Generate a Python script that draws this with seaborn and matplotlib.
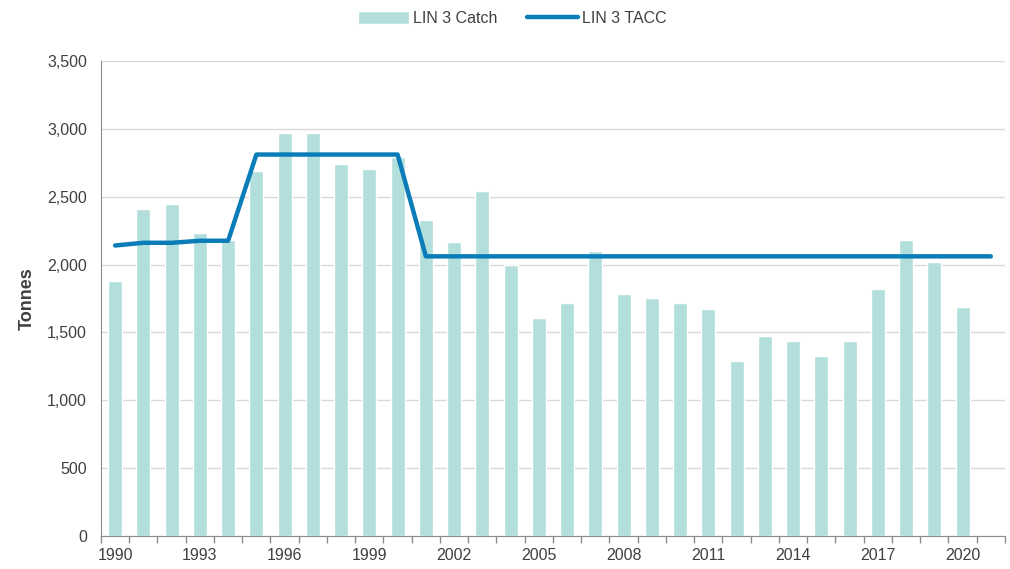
import numpy as np
import pandas as pd
import seaborn as sns
import matplotlib.pyplot as plt
from matplotlib.ticker import FuncFormatter, FixedLocator

years = list(range(1990, 2022))
catch = [1880, 2410, 2445, 2230, 2180, 2690, 2970, 2970, 2740, 2705,
         2790, 2330, 2165, 2540, 1995, 1605, 1720, 2100, 1780, 1750,
         1720, 1670, 1290, 1475, 1440, 1325, 1440, 1820, 2180, 2015,
         1690, np.nan]
tacc = [2140, 2160, 2160, 2175, 2175, 2810, 2810, 2810, 2810, 2810,
        2810, 2060, 2060, 2060, 2060, 2060, 2060, 2060, 2060, 2060,
        2060, 2060, 2060, 2060, 2060, 2060, 2060, 2060, 2060, 2060,
        2060, 2060]

bar_col = '#b2dfdb'
line_col = '#0a7db8'

sns.set_style('white')
plt.rcParams['font.family'] = ['Liberation Sans', 'DejaVu Sans']

df = pd.DataFrame({'year': years, 'catch': catch, 'tacc': tacc})
df['pos'] = np.arange(len(df))

fig = plt.figure(figsize=(10.1, 5.69), dpi=100)
ax = fig.add_axes([0.1, 0.058, 0.895, 0.835])

sns.barplot(data=df, x='year', y='catch', order=years, color=bar_col,
            width=0.5, saturation=1, ax=ax, label='LIN 3 Catch', zorder=2)
sns.lineplot(data=df, x='pos', y='tacc', color=line_col, linewidth=3.2,
             ax=ax, label='LIN 3 TACC', zorder=3)

ax.set_xlim(-0.5, len(years) - 0.5)
ax.set_ylim(0, 3500)
ax.set_yticks(np.arange(0, 3501, 500))
ax.yaxis.set_major_formatter(FuncFormatter(lambda v, p: f'{int(v):,}'))
ax.grid(axis='y', color='#d9d9d9', linewidth=1, zorder=0)
ax.set_axisbelow(True)

# labels every 3 years, tick marks between categories
ax.set_xticks(np.arange(0, len(years), 3))
ax.set_xticklabels([str(y) for y in years[::3]])
ax.xaxis.set_minor_locator(FixedLocator(np.arange(-0.5, len(years), 1)))
ax.tick_params(axis='x', which='both', bottom=True)
ax.tick_params(axis='x', which='major', length=0, pad=9, labelsize=11.5, labelcolor='#404040')
ax.tick_params(axis='x', which='minor', length=5, color='#8c8c8c', width=1, direction='out')
ax.tick_params(axis='y', length=0, labelsize=11.5, labelcolor='#404040', pad=10)

ax.set_xlabel('')
ax.set_ylabel('Tonnes', fontsize=13, fontweight='bold', color='#404040', labelpad=8)

for s in ['top', 'right']:
    ax.spines[s].set_visible(False)
ax.spines['left'].set_color('#8c8c8c')
ax.spines['bottom'].set_color('#8c8c8c')

h, l = ax.get_legend_handles_labels()
order = [l.index('LIN 3 Catch'), l.index('LIN 3 TACC')]
leg = ax.legend([h[i] for i in order], [l[i] for i in order],
                loc='upper center', bbox_to_anchor=(0.455, 1.135), ncol=2, frameon=False,
                fontsize=11.5, handlelength=3.2, handleheight=0.9, columnspacing=1.8,
                handletextpad=0.3, labelcolor='#404040')

plt.savefig('out.png', dpi=100)
